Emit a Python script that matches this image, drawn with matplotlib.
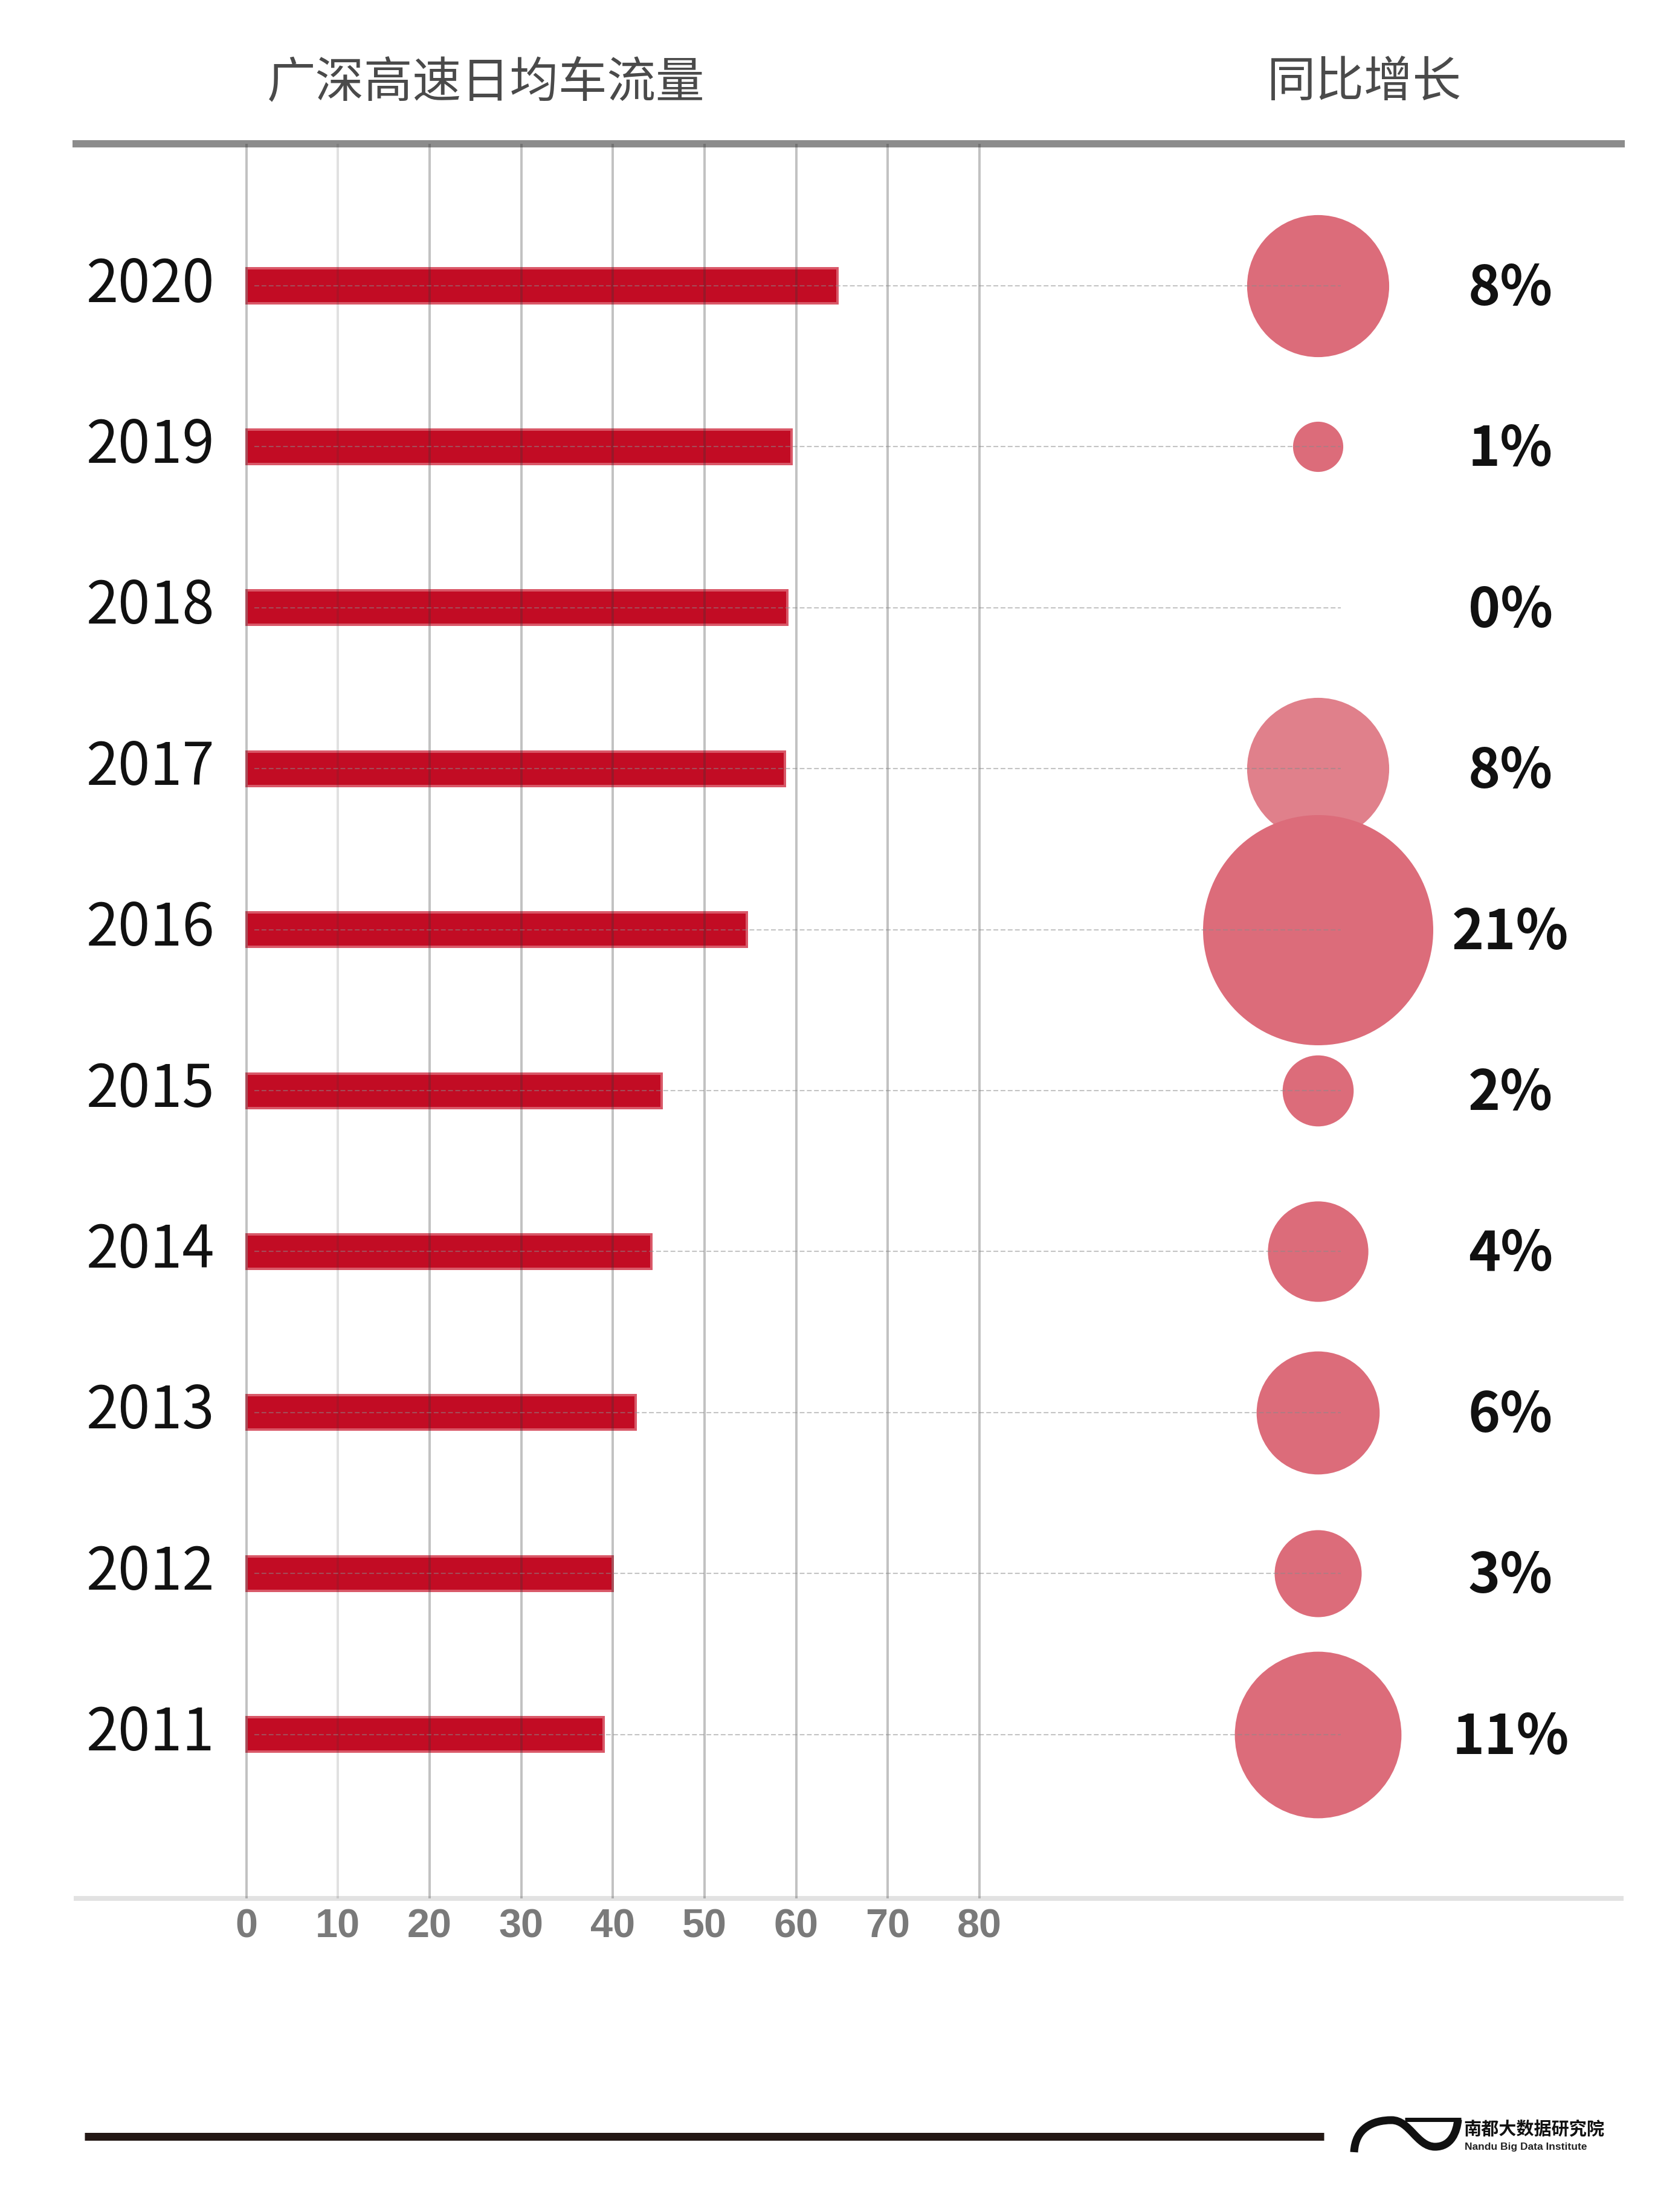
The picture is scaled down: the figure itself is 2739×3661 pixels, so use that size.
import matplotlib
matplotlib.use('Agg')
import matplotlib.pyplot as plt
from matplotlib.path import Path
from matplotlib.patches import PathPatch
from matplotlib.lines import Line2D

plt.rcParams['font.family'] = ['Noto Sans CJK SC', 'DejaVu Sans']

# ---------------- data ----------------
years = ['2011', '2012', '2013', '2014', '2015', '2016', '2017', '2018', '2019', '2020']
traffic = [39.0, 40.0, 42.5, 44.2, 45.3, 54.6, 58.8, 59.0, 59.5, 64.5]
growth = [11, 3, 6, 4, 2, 21, 8, 0, 1, 8]
growth_labels = ['11%', '3%', '6%', '4%', '2%', '21%', '8%', '0%', '1%', '8%']
x_ticks = [0, 10, 20, 30, 40, 50, 60, 70, 80]
x_tick_labels = ['0', '10', '20', '30', '40', '50', '60', '70', '80']
header_left = '广深高速日均车流量'
header_right = '同比增长'
logo_cn = '南都大数据研究院'
logo_en = 'Nandu Big Data Institute'

# ---------------- layout ----------------
W, H = 2739, 3661
DPI = 100
PT = 72.0 / DPI  # points per pixel

fig = plt.figure(figsize=(W / DPI, H / DPI), dpi=DPI)
fig.patch.set_facecolor('white')


def fx(px):
    return px / W


def fy(py):
    return 1 - py / H


AX_L, AX_R, AX_T, AX_B = 126, 2683, 238, 3142
ax = fig.add_axes([fx(AX_L), fy(AX_B), fx(AX_R) - fx(AX_L), fy(AX_T) - fy(AX_B)])
X0, PXU = 407.5, 15.17          # pixel of value 0, pixels per unit
ROW0, ROWH = 2870.6, 266.4      # pixel of first row, pixels per row
ax.set_xlim((AX_L - X0) / PXU, (AX_R - X0) / PXU)
ax.set_ylim((ROW0 - AX_B) / ROWH, (ROW0 - AX_T) / ROWH)
ax.set_facecolor('white')

ypos = list(range(len(years)))

# bars
ax.barh(ypos, traffic, height=57 / ROWH, color='#c20c24', edgecolor='#d95868',
        linewidth=4 * PT, zorder=1)

# grid
ax.set_xticks(x_ticks)
ax.set_xticklabels(x_tick_labels)
ax.set_axisbelow(False)
ax.xaxis.grid(True, color='#373737', alpha=0.3, linewidth=4 * PT)
ax.yaxis.grid(False)
gls = ax.get_xgridlines()
gls[1].set_alpha(0.15)

# dotted guide lines
CIRCLE_X = (2181 - X0) / PXU
LINE_END = (2219 - X0) / PXU
ax.hlines(ypos, 0.9, LINE_END, colors='#8a8a8a', alpha=0.5, linewidth=1.5,
          linestyles=(0, (3.8, 1.9)), zorder=5)

# bubbles (area proportional to growth); draw top rows first so lower rows overlap
size_per_pct = (381 * PT) ** 2 / 21.0
bubble_colors = ['#dc6c7a'] * len(years)
bubble_colors[6] = '#e0808b'
for i in reversed(ypos):
    ax.scatter([CIRCLE_X], [ypos[i]], s=size_per_pct * growth[i], c=bubble_colors[i],
               linewidths=0, zorder=3)

# percent labels
PCT_X = (2500 - X0) / PXU
for i in ypos:
    ax.text(PCT_X, ypos[i] - 0.12, growth_labels[i], ha='center', va='baseline',
            fontsize=65, fontweight='bold', color='#111111', zorder=6)

# year labels
YEAR_X = (355 - X0) / PXU
for i in ypos:
    ax.text(YEAR_X, ypos[i] - 0.1, years[i], ha='right', va='baseline',
            fontsize=69, fontweight='light', color='#111111')

# axes styling
for s in ['left', 'right']:
    ax.spines[s].set_visible(False)
ax.spines['top'].set_color('#8c8c8c')
ax.spines['top'].set_linewidth(12 * PT)
ax.spines['bottom'].set_color('#e2e2e2')
ax.spines['bottom'].set_linewidth(8 * PT)
ax.set_yticks([])
ax.tick_params(axis='x', length=0, pad=12, labelsize=48, labelcolor='#7a7a7a')
for lbl in ax.get_xticklabels():
    lbl.set_fontfamily(['Liberation Sans', 'DejaVu Sans'])
    lbl.set_fontweight('bold')

# headers
fig.text(fx(804), fy(160), header_left, ha='center', va='baseline', fontsize=58,
         fontweight='light', color='#4a4a4a')
fig.text(fx(2258), fy(160), header_right, ha='center', va='baseline', fontsize=58,
         fontweight='light', color='#4a4a4a')

# footer line
fig.add_artist(Line2D([fx(140), fx(2191)], [fy(3536), fy(3536)], color='#231815',
                      linewidth=13 * PT, solid_capstyle='butt'))

# logo mark (approximate)
def P(x, y):
    return (fx(x), fy(y))

wave = Path([P(2241, 3562), P(2243, 3522), P(2272, 3509), P(2303, 3509),
             P(2333, 3509), P(2345, 3553), P(2375, 3553),
             P(2402, 3553), P(2411, 3528), P(2413, 3508)],
            [Path.MOVETO, Path.CURVE4, Path.CURVE4, Path.CURVE4,
             Path.CURVE4, Path.CURVE4, Path.CURVE4,
             Path.CURVE4, Path.CURVE4, Path.CURVE4])
fig.add_artist(PathPatch(wave, transform=fig.transFigure, facecolor='none',
                         edgecolor='#111111', linewidth=13 * PT, capstyle='butt'))
fig.add_artist(Line2D([fx(2325), fx(2418)], [fy(3508), fy(3508)], color='#111111',
                      linewidth=7 * PT, solid_capstyle='butt'))

fig.text(fx(2422), fy(3533), logo_cn, ha='left', va='baseline', fontsize=21,
         fontweight='bold', color='#111111')
fig.text(fx(2424), fy(3558), logo_en, ha='left', va='baseline', fontsize=12.5,
         fontweight='bold', color='#222222', family=['Liberation Sans', 'DejaVu Sans'])

fig.savefig('out.png', dpi=DPI, facecolor='white')
